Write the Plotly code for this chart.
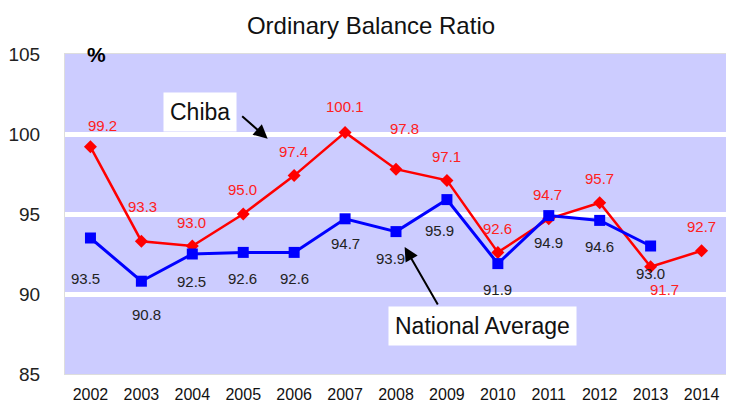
import plotly.graph_objects as go

years = ['2002', '2003', '2004', '2005', '2006', '2007', '2008',
         '2009', '2010', '2011', '2012', '2013', '2014']
chiba = [99.2, 93.3, 93.0, 95.0, 97.4, 100.1, 97.8, 97.1, 92.6, 94.7, 95.7, 91.7, 92.7]
national = [93.5, 90.8, 92.5, 92.6, 92.6, 94.7, 93.9, 95.9, 91.9, 94.9, 94.6, 93.0, None]

# label offsets in pixels (dx, dy), hand tuned to the picture
chiba_off = [(12, 21), (1, 35), (-1, 24), (-1, 25), (-1, 24), (0, 26), (8, 41),
             (0, 24), (0, 24), (-1, 24), (0, 24), (14, -23), (0, 24)]
nat_off = [(-5, -40), (5, -33), (-1, -27), (-1, -26), (0, -26), (0, -25), (-6, -27),
           (-7, -31), (0, -26), (0, -27), (0, -26), (0, -27), (0, 0)]

xs = list(range(len(years)))  # positions on the axis, labelled with the years
font = "Liberation Sans"
fig = go.Figure()

fig.add_trace(go.Scatter(x=xs, y=chiba, mode='lines+markers', name='Chiba',
                         line=dict(color='#FF0000', width=2.5),
                         marker=dict(symbol='diamond', size=10, color='#FF0000')))
fig.add_trace(go.Scatter(x=xs, y=national, mode='lines+markers', name='National Average',
                         line=dict(color='#0000FF', width=3),
                         marker=dict(symbol='square', size=11, color='#0000FF')))

# data labels
for i, v in enumerate(chiba):
    dx, dy = chiba_off[i]
    fig.add_annotation(x=xs[i], y=v, text=f"{v:.1f}", showarrow=False,
                       xshift=dx, yshift=dy, font=dict(color='#FF2020', size=15, family=font))
for i, v in enumerate(national):
    if v is None:
        continue
    dx, dy = nat_off[i]
    fig.add_annotation(x=xs[i], y=v, text=f"{v:.1f}", showarrow=False,
                       xshift=dx, yshift=dy, font=dict(color='#222222', size=15, family=font))

# call-out boxes and arrows
fig.add_annotation(x=3.48, y=99.7, text="", showarrow=True, ax=-27, ay=-24,
                   arrowhead=2, arrowsize=1.4, arrowwidth=2, arrowcolor='black')
fig.add_annotation(x=2.16, y=101.4, text="Chiba", showarrow=False, bgcolor='white',
                   borderpad=6, font=dict(size=23, color='#111111', family=font))
fig.add_annotation(x=6.17, y=92.94, text="", showarrow=True, ax=34, ay=59,
                   arrowhead=2, arrowsize=1.4, arrowwidth=2, arrowcolor='black')
fig.add_annotation(x=7.70, y=88.0, text="National Average", showarrow=False, bgcolor='white',
                   borderpad=6, font=dict(size=23, color='#111111', family=font))

fig.add_annotation(xref='paper', yref='paper', x=0.048, y=1.0, text="<b>%</b>",
                   showarrow=False, xanchor='center', yanchor='middle',
                   font=dict(size=21, color='black', family=font))

fig.update_layout(
    width=726, height=395,
    title=dict(text="Ordinary Balance Ratio", x=0.5, xanchor='center', y=0.955, yanchor='middle',
               font=dict(size=24, color='#111111', family=font)),
    plot_bgcolor='#CCCCFF', paper_bgcolor='white',
    margin=dict(l=57, r=7, t=46, b=29),
    showlegend=False,
    font=dict(family=font),
)
fig.update_xaxes(range=[-0.5, 12.5], tickvals=xs, ticktext=years, showgrid=False, ticks='',
                 zeroline=False, tickfont=dict(size=16, color='#111111'), ticklabelstandoff=6,
                 showline=True, linecolor='#DDDDDD', mirror=True, automargin=False)
fig.update_yaxes(range=[85, 105], dtick=5, showgrid=True, gridcolor='white', gridwidth=5,
                 zeroline=False, tickfont=dict(size=19, color='#222222'), ticklabelstandoff=20,
                 showline=True, linecolor='#DDDDDD', mirror=True, automargin=False)

fig.write_html("out.html")
